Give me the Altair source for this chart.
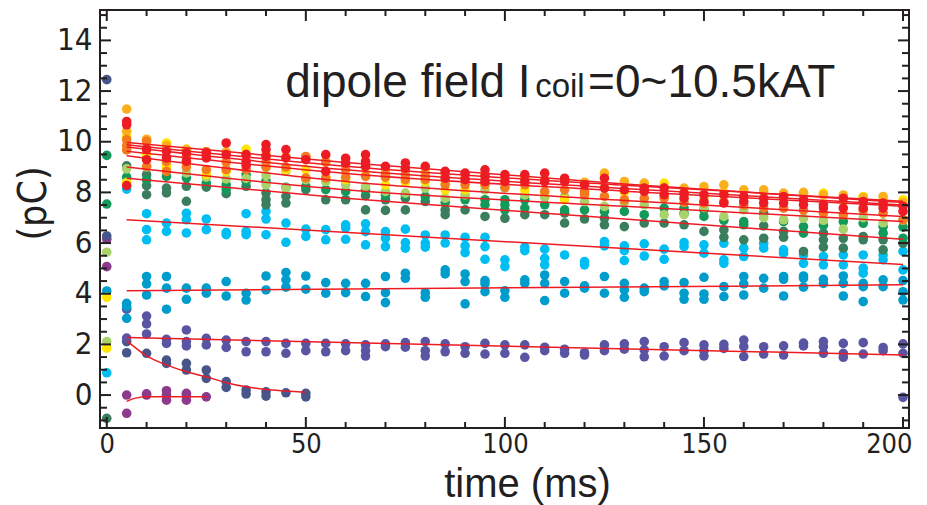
import altair as alt
import pandas as pd

INK = "#231F20"
NARROW = "Liberation Sans Narrow, DejaVu Sans Condensed, Liberation Sans"
REG = "Liberation Sans"

# sample times (ms) of the scatter columns
TIMES = [5, 10, 15, 20, 25, 30, 35, 40, 45, 50, 55, 60, 65, 70, 75, 80, 85, 90, 95, 100,
         105, 110, 115, 120, 125, 130, 135, 140, 145, 150, 155, 160, 165, 170, 175, 180, 185, 190, 195, 200]

SERIES = ["purple", "darkslate", "slate", "teal", "lightblue", "darkgreen", "green",
          "lightgreen", "yellow", "amber", "orange", "red"]
COLORS = ["#8B3A8C", "#475589", "#5A55A3", "#009DCC", "#00BDF2", "#3B7E5D", "#139A5A",
          "#A9D26B", "#FFE500", "#FBAF1B", "#F47A20", "#ED1C24"]

# values (pC) per time column, several shots each
PURPLE = [[0.0, -0.72], [0.0, 0.05], [0.17, -0.2, 0.0], [0.07, -0.2, 0.0], [-0.07]]
DARKSLATE = [[2.11, 1.67], [1.65], [1.38, 1.25], [1.25, 0.99], [0.99, 0.66], [0.53, 0.30],
             [0.20, 0.04], [0.13, -0.04], [0.09], [0.07, -0.07]]
SLATE = [[3.39, 2.25], [3.12, 2.81, 2.41], [2.20, 2.04], [2.57, 2.11, 1.94], [2.24, 1.98],
         [2.17, 1.88], [2.11, 1.71], [2.11, 1.71], [2.04, 1.65], [2.04, 1.75], [2.04, 1.71],
         [2.02, 1.75], [1.98, 1.75, 1.54], [2.02, 1.91], [2.07, 1.89], [2.11, 1.75, 1.54],
         [2.02, 1.71], [1.91, 1.65], [2.04, 1.62], [1.98, 1.65], [1.98, 1.49], [1.89, 1.75],
         [1.81, 1.65], [1.67, 1.58], [1.98, 1.75], [2.02, 1.81], [2.11, 1.78, 1.51],
         [1.91, 1.54], [2.07, 1.75], [1.98, 1.75, 1.54], [1.84, 2.0], [2.17, 1.91, 1.52],
         [1.91, 1.62], [1.94, 1.58], [1.94, 2.05], [2.11, 1.91, 1.65], [2.04, 1.65, 1.49],
         [2.07, 1.62], [1.88, 1.75], [2.02, 1.65, -0.09]]
TEAL = [[3.62, 3.49, 3.03], [4.68, 4.39, 3.95], [4.68, 4.22, 3.39], [4.22, 3.78], [4.22, 4.02],
        [4.48, 3.91], [4.02, 3.75], [4.70, 4.15], [4.84, 4.55, 4.26], [4.70, 4.18], [4.44, 4.02],
        [4.41, 4.04], [4.41, 3.89], [4.68, 4.04, 3.65], [4.81, 4.61], [4.04, 3.86], [4.94, 4.78],
        [4.78, 4.48, 3.60], [4.52, 4.39, 4.08], [4.12, 3.86], [4.55, 4.41], [4.74, 4.41, 3.73],
        [4.48, 4.02], [4.31, 4.22], [4.68, 4.02], [4.41, 4.15, 3.86], [4.22, 4.08], [4.48, 4.31],
        [4.44, 4.02, 3.78], [4.65, 3.99, 3.78], [4.28, 3.89], [4.68, 4.39, 3.95], [4.61, 4.22],
        [4.68, 4.57, 3.91], [4.70, 4.61, 4.26], [4.57, 4.41], [4.70, 4.41, 3.91],
        [4.41, 4.28, 3.69], [4.55, 4.28], [4.52, 4.08, 3.75]]
LIGHTBLUE = [[8.13], [7.16, 6.53, 6.13], [6.79, 6.46], [7.18, 6.92, 6.40], [6.95, 6.53],
             [6.42, 6.33], [7.16, 6.46, 6.33], [7.25, 6.95, 6.33], [6.79, 6.03], [6.55, 6.26],
             [6.53, 6.13], [6.72, 6.59, 6.15], [6.76, 6.45, 5.93], [6.45, 6.19, 5.86],
             [6.55, 6.02, 5.80], [6.32, 6.0, 5.84], [6.32, 6.0], [6.23, 5.89, 5.62],
             [6.23, 5.86, 5.36], [5.34, 5.07], [5.84, 5.70], [5.76, 5.40, 5.14], [5.53],
             [5.27, 5.14], [6.06, 5.89], [5.89, 5.70, 5.31], [5.97, 5.49], [5.76, 5.36],
             [6.02, 5.86], [5.93, 5.60], [5.99, 5.34, 5.20], [5.80, 5.47], [5.99, 5.80],
             [5.73, 5.60], [5.53, 5.20], [5.47, 5.14], [5.53, 5.14], [5.53, 5.01, 4.81],
             [5.53, 5.34], [5.67, 4.94]]
DARKGREEN = [[9.05], [8.70, 8.27, 7.91], [8.17, 7.98], [8.24, 7.65], [8.21], [7.95], [8.24],
             [7.98, 7.71, 7.51], [7.84, 7.58], [8.11], [7.71], [7.71], [7.87, 7.31], [7.71, 7.29],
             [7.77, 7.31], [7.64], [7.31, 7.12], [7.31], [7.05], [6.98], [7.12], [7.12],
             [7.18, 6.79], [6.95], [6.98, 6.72], [6.65], [6.79], [6.79], [6.72], [6.46],
             [6.52, 6.23], [6.13], [6.68, 6.19], [6.46, 6.23], [5.67], [6.39, 6.13, 5.84],
             [6.19, 5.80], [6.26, 6.13], [6.13, 5.73], [5.99]]
GREEN = [[8.6], [8.5], [8.63], [8.57], [8.37], [8.30, 8.11], [8.70, 8.44], [8.45], [8.2], [8.24],
         [8.11], [8.04], [8.10], [7.9], [7.9], [7.84], [7.6], [7.71], [7.71, 7.51],
         [7.71, 7.51, 7.31], [7.71, 7.38], [7.51], [7.31], [7.31], [7.25], [7.25], [7.12],
         [7.38], [7.38, 7.18], [7.31, 7.05], [6.9], [6.85, 6.72], [7.18], [6.85], [6.65, 6.39],
         [6.7], [6.85], [6.78], [6.65, 6.39], [6.63, 6.19]]
LIGHTGREEN = [[8.93], [9.0], [9.1], [8.77], [8.6], [8.53], [8.55], [8.66, 8.30], [8.83, 8.17],
              [8.5], [8.43], [8.3], [8.23], [8.04], [7.97], [8.17], [7.77], [7.9], [8.10], [8.17],
              [7.9], [7.8], [7.84], [7.64], [7.45], [7.6], [7.51], [7.12], [7.12], [7.4], [7.05],
              [7.31], [7.0], [6.92], [6.98], [6.9], [6.55], [7.0], [6.8], [6.9]]
YELLOW = [[8.39, 10.2], [9.5], [9.95, 9.0], [9.7, 9.1], [8.70], [8.83], [9.7], [9.0], [8.9],
          [8.9], [8.6], [8.5], [8.7], [8.3], [8.4], [8.43], [8.43, 8.10], [8.10], [8.3], [8.4],
          [8.1], [8.0], [7.71], [8.0], [8.2], [8.0], [8.2], [8.37], [7.9], [7.8], [8.0], [7.8],
          [8.0], [7.9], [7.97], [7.97], [7.6], [7.84], [7.7], [7.71]]
AMBER = [[11.29, 10.41], [10.1], [9.85], [9.7], [9.6], [9.6], [9.5], [9.5], [9.4], [9.4], [9.2],
         [9.1], [9.0], [8.9], [8.9], [8.8], [8.7], [8.6], [8.7], [8.6], [8.6], [8.5], [8.5],
         [8.4], [8.76], [8.43], [8.37], [8.2], [8.17], [8.23], [8.30], [8.10], [8.10], [7.97],
         [8.0], [7.9], [7.9], [7.8], [7.84], [7.6]]
ORANGE = [[10.08, 9.85, 9.68], [10.02, 9.75, 9.03], [9.23, 8.83], [9.4, 9.0], [9.6, 8.90],
          [9.2, 8.9], [8.9], [9.2, 9.0], [9.0], [9.42, 8.57], [9.2, 8.57], [8.89, 8.6], [8.63],
          [8.7, 8.6], [8.7, 8.5], [8.63, 8.5], [8.3], [8.30], [8.3], [8.2], [8.30], [8.04], [8.1],
          [8.04, 7.91], [7.84], [7.71], [7.77], [7.77], [7.6], [7.58], [7.64], [7.5], [7.38],
          [7.38], [7.3], [7.18], [7.11], [7.3], [7.18], [6.92]]
RED = [[10.8, 10.67, 8.27], [9.69, 9.29], [9.62, 9.36], [9.56, 9.23], [9.56, 9.36], [9.95, 9.49],
       [9.49, 9.23, 9.06], [9.89, 9.69, 9.42], [9.69, 9.36], [9.29], [9.49, 8.83], [9.35, 9.16],
       [9.49, 9.22, 9.03], [9.03], [9.16, 8.96], [9.03], [8.83, 8.56], [8.76, 8.50],
       [8.89, 8.63, 8.43], [8.70, 8.43], [8.70, 8.43], [8.76, 8.43], [8.56, 8.43], [8.30],
       [8.56, 8.17], [8.10], [8.17, 8.04], [8.17, 7.91], [7.97, 7.77], [7.91, 7.64],
       [7.91, 7.58], [7.84, 7.64], [7.77, 7.58], [7.84, 7.58], [7.71, 7.51], [7.51, 7.38],
       [7.77, 7.38], [7.64, 7.38], [7.58, 7.38], [7.45, 7.25]]

# scattered points at t = 0
T0_VALUES = [12.45, 9.46, 7.54, 6.28, 6.15, 5.64, 5.07, 4.11, 3.86, 2.11, 1.85, 0.88, -0.92]
T0_SERIES = ["darkslate", "green", "green", "darkslate", "purple", "lightgreen", "purple",
             "teal", "yellow", "lightgreen", "yellow", "lightblue", "darkgreen"]

# red fit curves
FIT_UPPER_T = [5, 60, 130, 200]
FIT_AMBER = [9.97, 9.18, 8.33, 7.60]
FIT_RED = [9.88, 9.03, 8.28, 7.65]
FIT_ORANGE = [9.79, 8.89, 8.15, 7.50]
FIT_YELLOW = [9.62, 8.75, 8.05, 7.45]
FIT_LIGHTGREEN = [9.45, 8.43, 7.68, 7.05]
FIT_GREEN = [9.0, 8.10, 7.45, 6.85]
FIT_DARKGREEN = [8.56, 7.77, 6.95, 6.15]
FIT_LOWER_T = [5, 200]
FIT_LIGHTBLUE = [6.92, 5.15]
FIT_TEAL = [4.12, 4.35]
FIT_SLATE = [2.27, 1.58]
FIT_DECAY_T = [5, 10, 15, 20, 25, 30, 35, 40, 45, 50]
FIT_DECAY = [2.15, 1.55, 1.19, 0.92, 0.72, 0.49, 0.33, 0.22, 0.16, 0.11]
FIT_PURPLE_T = [5, 7, 10, 25]
FIT_PURPLE = [-0.25, -0.13, -0.07, -0.07]

X_LABELS = [0, 50, 100, 150, 200]
X_MINOR = [0, 10, 20, 30, 40, 50, 60, 70, 80, 90, 100, 110, 120, 130, 140, 150, 160, 170,
           180, 190, 200]
Y_LABELS = [0, 2, 4, 6, 8, 10, 12, 14]
Y_MINOR = [v / 2 for v in range(-2, 31)]

TITLE_TEXT = ["dipole field I", "coil", "=0~10.5kAT"]
TITLE_T = [44.8, 107.6, 120.9]
TITLE_V = [11.78, 11.78, 11.78]
TITLE_SIZE = [46, 33, 46]

# ---------- tables ----------
series_vals = [PURPLE, DARKSLATE, SLATE, TEAL, LIGHTBLUE, DARKGREEN, GREEN, LIGHTGREEN,
               YELLOW, AMBER, ORANGE, RED]
rows = []
for name, vals in zip(SERIES, series_vals):
    for t0v, t0s in zip(T0_VALUES, T0_SERIES):
        if t0s == name:
            rows.append({"t": 0, "v": t0v, "series": name})
    for t, vs in zip(TIMES, vals):
        for v in vs:
            rows.append({"t": t, "v": v, "series": name})
pts = pd.DataFrame(rows)

fit_rows = []
for name, tt, vv in [("amber", FIT_UPPER_T, FIT_AMBER), ("red", FIT_UPPER_T, FIT_RED),
                     ("orange", FIT_UPPER_T, FIT_ORANGE), ("yellow", FIT_UPPER_T, FIT_YELLOW),
                     ("lightgreen", FIT_UPPER_T, FIT_LIGHTGREEN), ("green", FIT_UPPER_T, FIT_GREEN),
                     ("darkgreen", FIT_UPPER_T, FIT_DARKGREEN),
                     ("lightblue", FIT_LOWER_T, FIT_LIGHTBLUE), ("teal", FIT_LOWER_T, FIT_TEAL),
                     ("slate", FIT_LOWER_T, FIT_SLATE), ("darkslate", FIT_DECAY_T, FIT_DECAY),
                     ("purple", FIT_PURPLE_T, FIT_PURPLE)]:
    for t, v in zip(tt, vv):
        fit_rows.append({"t": t, "v": v, "fit": name})
fits = pd.DataFrame(fit_rows)

x_major = pd.DataFrame({"t": X_LABELS})
x_minor = pd.DataFrame({"t": [t for t in X_MINOR if t not in X_LABELS]})
y_major = pd.DataFrame({"v": Y_LABELS})
y_minor = pd.DataFrame({"v": [v for v in Y_MINOR if v not in Y_LABELS]})
title_df = pd.DataFrame({"t": TITLE_T, "v": TITLE_V, "txt": TITLE_TEXT, "fs": TITLE_SIZE})

W, H = 809, 418
xscale = alt.Scale(domain=[-1.7, 201.5], nice=False, zero=False)
yscale = alt.Scale(domain=[-1.3, 15.2], nice=False, zero=False)
xaxis = alt.Axis(values=X_LABELS, ticks=False, domain=False, grid=False,
                 labelFont=NARROW, labelFontSize=27, labelColor=INK, labelPadding=3,
                 labelAlign=alt.ExprRef("datum.value == 200 ? 'right' : 'center'"),
                 labelOffset=alt.ExprRef("datum.value == 200 ? 9 : 0"),
                 title="time (ms)", titleFont=REG, titleFontSize=40, titleFontWeight="normal",
                 titleColor=INK, titleX=427, titleY=68, titleBaseline="alphabetic",
                 titleAlign="center", labelFlush=False)
yaxis = alt.Axis(values=Y_LABELS, ticks=False, domain=False, grid=False,
                 labelFont=NARROW, labelFontSize=31, labelColor=INK, labelPadding=8,
                 title="(pC)", titleFont=NARROW, titleFontSize=39, titleFontWeight="normal",
                 titleColor=INK, titleX=-47, titleY=193, titleAngle=-90,
                 titleBaseline="bottom", titleAlign="center", labelFlush=False)
X = alt.X("t:Q", scale=xscale, axis=xaxis)
Y = alt.Y("v:Q", scale=yscale, axis=yaxis)

points = alt.Chart(pts).mark_circle(size=92, opacity=1).encode(
    x=X, y=Y,
    color=alt.Color("series:N", scale=alt.Scale(domain=SERIES, range=COLORS), legend=None),
)
lines = alt.Chart(fits).mark_line(color="#ED1C24", strokeWidth=1.5, interpolate="monotone").encode(
    x=X, y=Y, detail="fit:N"
)

def rule(df, **enc):
    return alt.Chart(df).mark_rule(color=INK, strokeWidth=2).encode(**enc)

ticks = [
    rule(y_major, y=Y, x=alt.value(0), x2=alt.value(11)),
    rule(y_minor, y=Y, x=alt.value(0), x2=alt.value(7)),
    rule(y_major, y=Y, x=alt.value(W - 11), x2=alt.value(W)),
    rule(y_minor, y=Y, x=alt.value(W - 7), x2=alt.value(W)),
    rule(x_major, x=X, y=alt.value(H - 11), y2=alt.value(H)),
    rule(x_minor, x=X, y=alt.value(H - 6), y2=alt.value(H)),
    rule(x_major, x=X, y=alt.value(0), y2=alt.value(11)),
    rule(x_minor, x=X, y=alt.value(0), y2=alt.value(6)),
]

title = alt.Chart(title_df).mark_text(align="left", baseline="alphabetic", font=REG,
                                      color=INK).encode(
    x=X, y=Y, text="txt:N", size=alt.Size("fs:Q", scale=None)
)

chart = alt.layer(points, lines, *ticks, title).properties(
    width=W, height=H,
    autosize=alt.AutoSizeParams(type="none"),
    padding={"left": 92, "top": 2, "right": 10, "bottom": 81},
).configure_view(stroke=INK, strokeWidth=2)

chart.save("out.html", embed_options={"renderer": "svg", "actions": False})
